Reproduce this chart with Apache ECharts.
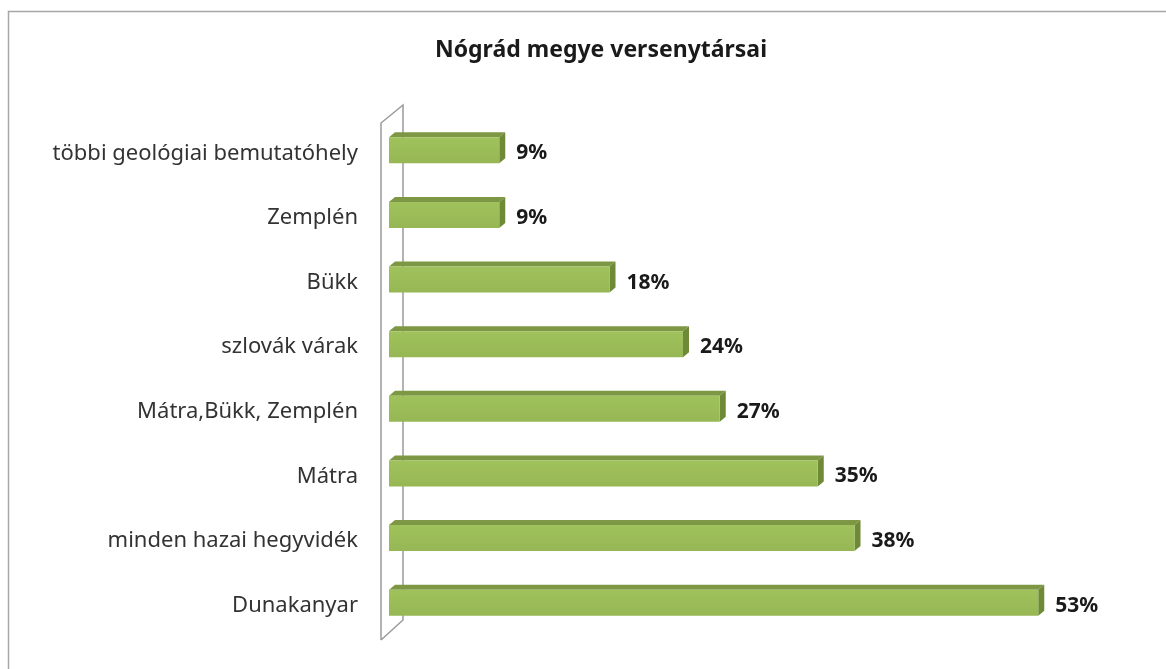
<!DOCTYPE html>
<html>
<head>
<meta charset="utf-8">
<title>Nógrád megye versenytársai</title>
<script src="https://cdn.jsdelivr.net/npm/echarts@6/dist/echarts.min.js"></script>
<style>
  html, body { margin: 0; padding: 0; background: #fff; }
  #chart { width: 1166px; height: 669px; }
</style>
</head>
<body>
<div id="chart"></div>
<script>
// kategóriák felülről lefelé
const categories = [
  'többi geológiai bemutatóhely',
  'Zemplén',
  'Bükk',
  'szlovák várak',
  'Mátra,Bükk, Zemplén',
  'Mátra',
  'minden hazai hegyvidék',
  'Dunakanyar'
]
const values = [9, 9, 18, 24, 27, 35, 38, 53]

const FONT = '"Noto Sans", "Open Sans", sans-serif'

const chart = echarts.init(document.getElementById('chart'))

// 3D-s oszlop: előlap + tetőlap + oldallap
const renderBar = (params, api) => {
  const idx = api.value(0)
  const val = api.value(1)
  const start = api.coord([0, idx])
  const end = api.coord([val, idx])
  const h = 26
  const dx = 6, dy = 5
  const cy = start[1] - 3
  const top = cy - h / 2
  const bottom = cy + h / 2
  const x0 = start[0], x1 = end[0]
  return {
    type: 'group',
    children: [
      {
        type: 'polygon',
        shape: { points: [[x0, top], [x0 + dx, top - dy], [x1 + dx, top - dy], [x1, top]] },
        style: { fill: '#7d9744' }
      },
      {
        type: 'polygon',
        shape: { points: [[x1, top], [x1 + dx, top - dy], [x1 + dx, bottom - dy], [x1, bottom]] },
        style: { fill: '#6f8a37' }
      },
      {
        type: 'rect',
        shape: { x: x0, y: top, width: x1 - x0, height: h },
        style: {
          fill: new echarts.graphic.LinearGradient(0, 0, 0, 1, [
            { offset: 0, color: '#a0c25c' },
            { offset: 1, color: '#96b754' }
          ])
        }
      },
      {
        type: 'text',
        x: x1 + dx + 11,
        y: start[1],
        style: {
          text: val + '%',
          font: 'bold 21px ' + FONT,
          fill: '#1a1a1a',
          verticalAlign: 'middle'
        }
      }
    ]
  }
}

const option = {
  animation: false,
  title: {
    text: 'Nógrád megye versenytársai',
    left: 596,
    textAlign: 'center',
    top: 34,
    textStyle: { fontFamily: FONT, fontSize: 23, fontWeight: 'bold', color: '#1a1a1a' }
  },
  graphic: [
    {
      type: 'rect',
      shape: { x: 8.5, y: 11.5, width: 1200, height: 700 },
      style: { fill: 'none', stroke: '#a6a6a6', lineWidth: 1.5 },
      silent: true
    },
    {
      type: 'polyline',
      shape: { points: [[381, 640], [381, 123], [403, 105], [403, 620], [381, 640]] },
      style: { fill: 'none', stroke: '#9a9a9a', lineWidth: 1.5 },
      silent: true
    }
  ],
  grid: { left: 389, top: 121, width: 735, height: 517 },
  xAxis: {
    type: 'value',
    min: 0,
    max: 60,
    show: false
  },
  yAxis: {
    type: 'category',
    data: categories,
    inverse: true,
    axisLine: { show: false },
    axisTick: { show: false },
    axisLabel: {
      margin: 31,
      fontFamily: FONT,
      fontSize: 22,
      color: '#333333'
    }
  },
  series: [
    {
      type: 'custom',
      renderItem: renderBar,
      encode: { x: 1, y: 0 },
      data: values.map((v, i) => [i, v])
    }
  ]
}

chart.setOption(option)
</script>
</body>
</html>
